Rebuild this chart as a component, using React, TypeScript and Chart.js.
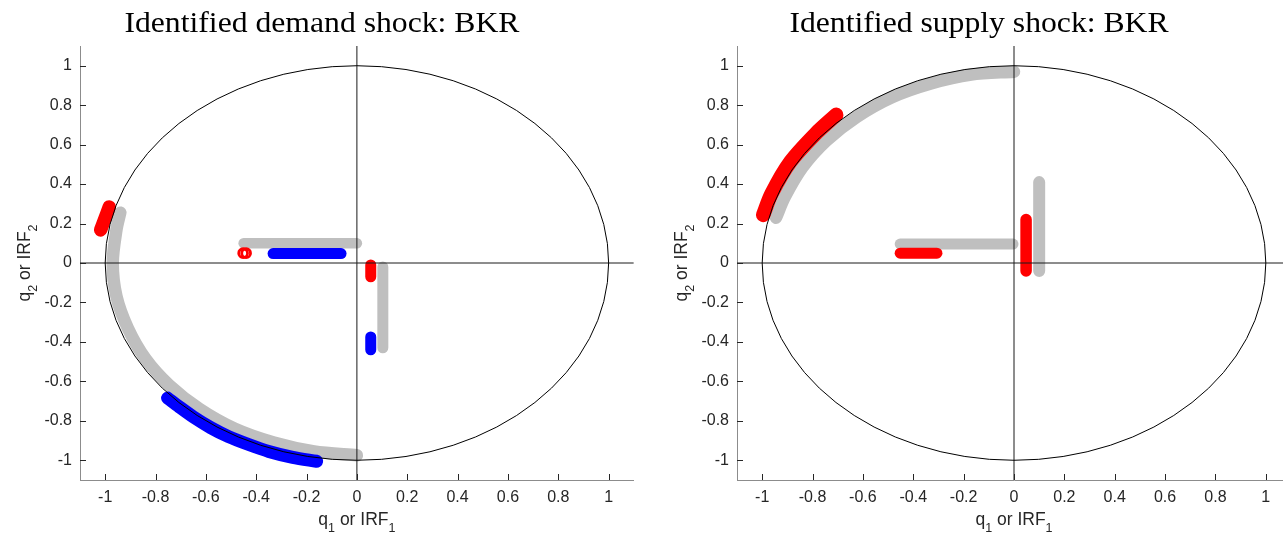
import React, { useEffect, useRef } from "react";
import { Chart, registerables } from "chart.js";

Chart.register(...registerables);

type Pt = { x: number; y: number };

// ---- axes / labels ----
const tickValues = [-1, -0.8, -0.6, -0.4, -0.2, 0, 0.2, 0.4, 0.6, 0.8, 1];
const axisMin = -1.1;
const axisMax = 1.1;
const unitCircleRadius = 1;

const demandTitle = "Identified demand shock: BKR";
const supplyTitle = "Identified supply shock: BKR";
const xTitleParts: [string, string][] = [["q", "1"], [" or IRF", "1"]];
const yTitleParts: [string, string][] = [["q", "2"], [" or IRF", "2"]];

// ---- reference lines through the origin ----
const zeroLineV: Pt[] = [{ x: 0, y: -1.1 }, { x: 0, y: 1.1 }];
const zeroLineH: Pt[] = [{ x: -1.1, y: 0 }, { x: 1.1, y: 0 }];

// ---- demand shock panel ----
const demandGrayArc: Pt[] = [
  { x: -0.94, y: 0.255 },
  { x: -0.955, y: 0.17 },
  { x: -0.97, y: 0.0 },
  { x: -0.955, y: -0.17 },
  { x: -0.91, y: -0.33 },
  { x: -0.84, y: -0.485 },
  { x: -0.745, y: -0.62 },
  { x: -0.625, y: -0.74 },
  { x: -0.485, y: -0.84 },
  { x: -0.33, y: -0.91 },
  { x: -0.17, y: -0.955 },
  { x: 0.0, y: -0.975 },
];
const demandBlueArc: Pt[] = [
  { x: -0.752, y: -0.685 },
  { x: -0.705, y: -0.73 },
  { x: -0.65, y: -0.78 },
  { x: -0.58, y: -0.835 },
  { x: -0.51, y: -0.88 },
  { x: -0.43, y: -0.92 },
  { x: -0.35, y: -0.955 },
  { x: -0.255, y: -0.985 },
  { x: -0.16, y: -1.005 },
];
const demandRedArc: Pt[] = [
  { x: -1.018, y: 0.168 },
  { x: -1.0, y: 0.228 },
  { x: -0.984, y: 0.284 },
];
const demandGrayH: Pt[] = [{ x: -0.45, y: 0.1 }, { x: 0.0, y: 0.1 }];
const demandBlueH: Pt[] = [{ x: -0.333, y: 0.048 }, { x: -0.063, y: 0.048 }];
const demandRedRing: Pt[] = [{ x: -0.452, y: 0.05 }, { x: -0.44, y: 0.05 }];
const demandRedV: Pt[] = [{ x: 0.055, y: -0.01 }, { x: 0.055, y: -0.07 }];
const demandGrayV: Pt[] = [{ x: 0.103, y: -0.02 }, { x: 0.103, y: -0.43 }];
const demandBlueV: Pt[] = [{ x: 0.055, y: -0.375 }, { x: 0.055, y: -0.44 }];

// ---- supply shock panel ----
const supplyGrayArc: Pt[] = [
  { x: -0.945, y: 0.23 },
  { x: -0.91, y: 0.335 },
  { x: -0.84, y: 0.485 },
  { x: -0.745, y: 0.62 },
  { x: -0.625, y: 0.74 },
  { x: -0.485, y: 0.84 },
  { x: -0.33, y: 0.91 },
  { x: -0.17, y: 0.955 },
  { x: 0.0, y: 0.97 },
];
const supplyRedArc: Pt[] = [
  { x: -0.996, y: 0.244 },
  { x: -0.963, y: 0.351 },
  { x: -0.888, y: 0.513 },
  { x: -0.785, y: 0.659 },
  { x: -0.706, y: 0.751 },
];
const supplyGrayH: Pt[] = [{ x: -0.452, y: 0.096 }, { x: -0.004, y: 0.096 }];
const supplyRedH: Pt[] = [{ x: -0.452, y: 0.05 }, { x: -0.306, y: 0.05 }];
const supplyRedV: Pt[] = [{ x: 0.048, y: 0.22 }, { x: 0.048, y: -0.04 }];
const supplyGrayV: Pt[] = [{ x: 0.1, y: 0.41 }, { x: 0.1, y: -0.04 }];

// ---- styles ----
const GRAY = "#bfbfbf";
const RED = "#ff0000";
const BLUE = "#0000ff";
const TEXT = "#262626";
const SANS = '"Liberation Sans", Arial, Helvetica, sans-serif';
const SERIF = '"Liberation Serif", "Times New Roman", serif';
const DEMAND_TITLE_WIDTH = 395;

function band(data: Pt[], color: string, width: number, order: number, tension = 0) {
  return {
    data,
    showLine: true,
    borderColor: color,
    backgroundColor: color,
    borderWidth: width,
    borderCapStyle: "round",
    borderJoinStyle: "round",
    pointRadius: 0,
    pointHoverRadius: 0,
    tension,
    fill: false,
    order,
  };
}

function refLine(data: Pt[]) {
  return {
    data,
    showLine: true,
    borderColor: "#1a1a1a",
    borderWidth: 1,
    pointRadius: 0,
    pointHoverRadius: 0,
    fill: false,
    order: 0,
  };
}

function ring(data: Pt[], color: string) {
  return {
    data,
    showLine: false,
    pointStyle: "circle",
    pointRadius: 4.4,
    pointBorderWidth: 2.8,
    pointBorderColor: color,
    pointBackgroundColor: "rgba(0,0,0,0)",
    borderColor: color,
    order: 1,
  };
}

function fmt(v: number) {
  const r = Math.round(v * 10) / 10;
  return String(r === 0 ? 0 : r);
}

function drawSubText(
  ctx: CanvasRenderingContext2D,
  parts: [string, string][],
  cx: number,
  baseline: number
) {
  const main = `17.5px ${SANS}`;
  const sub = `12.5px ${SANS}`;
  let total = 0;
  for (const [m, s] of parts) {
    ctx.font = main;
    total += ctx.measureText(m).width;
    ctx.font = sub;
    total += ctx.measureText(s).width;
  }
  let x0 = cx - total / 2;
  ctx.textAlign = "left";
  ctx.textBaseline = "alphabetic";
  ctx.fillStyle = TEXT;
  for (const [m, s] of parts) {
    ctx.font = main;
    ctx.fillText(m, x0, baseline);
    x0 += ctx.measureText(m).width;
    ctx.font = sub;
    ctx.fillText(s, x0, baseline + 6.5);
    x0 += ctx.measureText(s).width;
  }
}

function makeOverlay(title: string) {
  return {
    id: "overlay",
    afterDatasetsDraw(chart: any) {
      const { ctx, chartArea: a, scales } = chart;
      const xs = scales.x;
      const ys = scales.y;
      ctx.save();
      ctx.beginPath();
      ctx.rect(a.left, a.top, a.right - a.left, a.bottom - a.top);
      ctx.clip();
      const cx = xs.getPixelForValue(0);
      const cy = ys.getPixelForValue(0);
      const rx = Math.abs(xs.getPixelForValue(unitCircleRadius) - cx);
      const ry = Math.abs(ys.getPixelForValue(unitCircleRadius) - cy);
      ctx.beginPath();
      ctx.ellipse(cx, cy, rx, ry, 0, 0, Math.PI * 2);
      ctx.strokeStyle = "#000";
      ctx.lineWidth = 1;
      ctx.stroke();
      ctx.restore();
    },
    afterDraw(chart: any) {
      const { ctx, chartArea: a, scales } = chart;
      const xs = scales.x;
      const ys = scales.y;
      ctx.save();
      // inward tick marks
      ctx.strokeStyle = TEXT;
      ctx.lineWidth = 1;
      ctx.beginPath();
      for (const v of tickValues) {
        const px = Math.round(xs.getPixelForValue(v)) + 0.5;
        ctx.moveTo(px, a.bottom);
        ctx.lineTo(px, a.bottom - 6);
        const py = Math.round(ys.getPixelForValue(v)) + 0.5;
        ctx.moveTo(a.left, py);
        ctx.lineTo(a.left + 6, py);
      }
      ctx.stroke();
      // title (serif, widened to approximate the LaTeX font's proportions)
      ctx.save();
      ctx.font = `29px ${SERIF}`;
      ctx.fillStyle = "#000";
      ctx.textAlign = "center";
      ctx.textBaseline = "alphabetic";
      const sx = DEMAND_TITLE_WIDTH / ctx.measureText(demandTitle).width;
      ctx.translate((a.left + a.right) / 2 - 35, 32);
      ctx.scale(sx, 1);
      ctx.fillText(title, 0, 0);
      ctx.restore();
      // x axis title
      drawSubText(ctx, xTitleParts, (a.left + a.right) / 2, a.bottom + 45);
      // y axis title
      ctx.translate(a.left - 50, (a.top + a.bottom) / 2);
      ctx.rotate(-Math.PI / 2);
      drawSubText(ctx, yTitleParts, 0, 0);
      ctx.restore();
    },
  };
}

function buildChart(
  canvas: HTMLCanvasElement,
  datasets: any[],
  title: string,
  yAxisWidth: number,
  rightPad: number
) {
  const scaleCommon = {
    type: "linear",
    min: axisMin,
    max: axisMax,
    afterBuildTicks: (s: any) => {
      s.ticks = tickValues.map((v) => ({ value: v }));
    },
    grid: { display: false, drawTicks: false, drawOnChartArea: false },
    border: { display: true, color: "#8c8c8c", width: 1 },
  };
  return new Chart(canvas, {
    type: "scatter",
    data: { datasets },
    options: {
      responsive: false,
      animation: false,
      events: [],
      layout: { padding: { left: 0, top: 46, right: rightPad, bottom: 0 } },
      plugins: {
        legend: { display: false },
        tooltip: { enabled: false },
        title: { display: false },
      },
      scales: {
        x: {
          ...scaleCommon,
          position: "bottom",
          ticks: {
            callback: (v: any) => fmt(Number(v)),
            color: TEXT,
            font: { family: SANS, size: 16 },
            padding: 8,
            maxRotation: 0,
            autoSkip: false,
          },
          afterFit: (s: any) => {
            s.height = 57;
          },
        },
        y: {
          ...scaleCommon,
          position: "left",
          ticks: {
            callback: (v: any) => fmt(Number(v)),
            color: TEXT,
            font: { family: SANS, size: 16 },
            padding: 8,
            autoSkip: false,
          },
          afterFit: (s: any) => {
            s.width = yAxisWidth;
          },
        },
      },
    } as any,
    plugins: [makeOverlay(title) as any],
  });
}

export default function App() {
  const leftRef = useRef<HTMLCanvasElement>(null);
  const rightRef = useRef<HTMLCanvasElement>(null);

  useEffect(() => {
    const left = buildChart(
      leftRef.current!,
      [
        refLine(zeroLineV),
        refLine(zeroLineH),
        ring(demandRedRing, RED),
        band(demandRedArc, RED, 13.5, 1, 0.3),
        band(demandBlueArc, BLUE, 13, 1, 0.3),
        band(demandBlueH, BLUE, 11, 1),
        band(demandRedV, RED, 11, 1),
        band(demandBlueV, BLUE, 11, 1),
        band(demandGrayArc, GRAY, 12.5, 2, 0.3),
        band(demandGrayH, GRAY, 10.5, 2),
        band(demandGrayV, GRAY, 11, 2),
      ],
      demandTitle,
      80,
      7
    );
    const right = buildChart(
      rightRef.current!,
      [
        refLine(zeroLineV),
        refLine(zeroLineH),
        band(supplyRedArc, RED, 14.5, 1, 0.3),
        band(supplyRedH, RED, 11, 1),
        band(supplyRedV, RED, 11.5, 1),
        band(supplyGrayArc, GRAY, 12.5, 2, 0.3),
        band(supplyGrayH, GRAY, 11, 2),
        band(supplyGrayV, GRAY, 12, 2),
      ],
      supplyTitle,
      96,
      10
    );
    return () => {
      left.destroy();
      right.destroy();
    };
  }, []);

  return (
    <div
      style={{
        position: "absolute",
        left: 0,
        top: 0,
        width: 1283,
        height: 537,
        overflow: "hidden",
        background: "#fff",
      }}
    >
      <canvas
        ref={leftRef}
        width={641}
        height={537}
        style={{ position: "absolute", left: 0, top: 0, width: 641, height: 537 }}
      />
      <canvas
        ref={rightRef}
        width={660}
        height={537}
        style={{ position: "absolute", left: 641, top: 0, width: 660, height: 537 }}
      />
    </div>
  );
}
